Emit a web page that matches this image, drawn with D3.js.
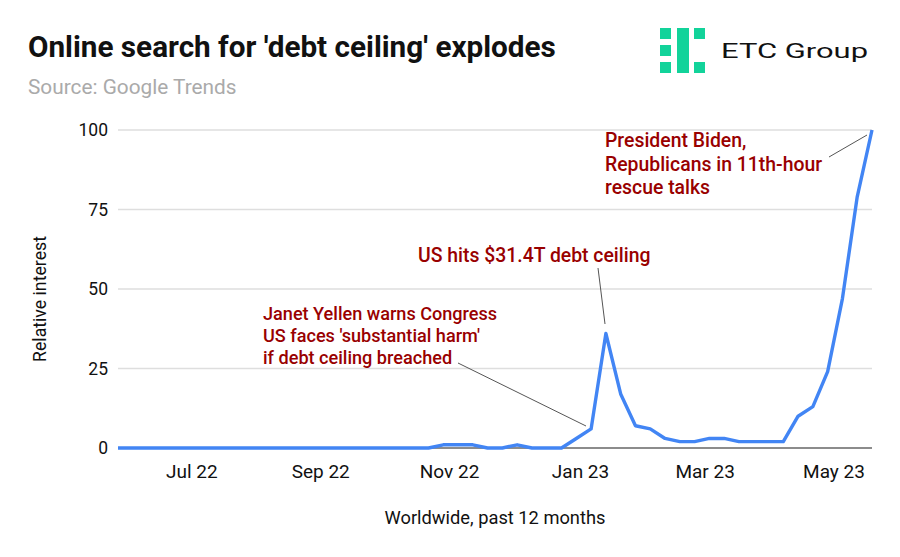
<!DOCTYPE html>
<html>
<head>
<meta charset="utf-8">
<script src="https://cdn.jsdelivr.net/npm/d3@7"></script>
<style>
  html, body { margin: 0; background: #fff; }
  text { font-family: Roboto, sans-serif; }
</style>
</head>
<body>
<svg id="chart" width="900" height="557"></svg>
<script>
  // Weekly Google Trends readings, first week to last
  const firstWeek = '2022-06-05';
  const interest = [
    0,0,0,0,0,0,0,0,0,0,0,0,0,0,0,0,0,0,0,0,0,
    0,1,1,1,0,0,1,0,0,0,3,6,36,17,7,6,3,2,2,3,3,
    2,2,2,2,10,13,24,47,79,100
  ];
  const yTicks = [0, 25, 50, 75, 100];
  const xTickDates = ['2022-07-10', '2022-09-09', '2022-11-09', '2023-01-10', '2023-03-10', '2023-05-10'];
  const xTickLabels = ['Jul 22', 'Sep 22', 'Nov 22', 'Jan 23', 'Mar 23', 'May 23'];

  const parse = d3.utcParse('%Y-%m-%d');
  const weeks = interest.map((_, i) => d3.utcDay.offset(parse(firstWeek), i * 7));

  const svg = d3.select('#chart');
  const x = d3.scaleUtc().domain(d3.extent(weeks)).range([118, 872]);
  const y = d3.scaleLinear().domain([0, 100]).range([448, 130]);

  // header
  svg.append('text').attr('x', 28).attr('y', 57)
    .attr('font-size', 29.7).attr('font-weight', 700).attr('fill', '#111')
    .text("Online search for 'debt ceiling' explodes");
  svg.append('text').attr('x', 28).attr('y', 94)
    .attr('font-size', 20.8).attr('fill', '#aaa')
    .text('Source: Google Trends');

  // logo
  const logo = svg.append('g').attr('fill', '#12d39a');
  [[660, 28, 11, 11], [660, 45, 11, 11], [660, 62, 11, 11], [677, 28, 12, 45],
   [694, 28, 11, 11], [694, 62, 11, 11]].forEach(([lx, ly, w, h]) => {
    logo.append('rect').attr('x', lx).attr('y', ly).attr('width', w).attr('height', h);
  });
  svg.append('text').attr('x', 721).attr('y', 58)
    .attr('font-family', 'Inter, sans-serif').attr('font-size', 21).attr('fill', '#111')
    .attr('textLength', 147).attr('lengthAdjust', 'spacingAndGlyphs')
    .text('ETC Group');

  // gridlines
  svg.append('g').selectAll('line').data(yTicks.filter(d => d > 0)).join('line')
    .attr('x1', 118).attr('x2', 872)
    .attr('y1', d => y(d)).attr('y2', d => y(d))
    .attr('stroke', '#dedede').attr('stroke-width', 1.5);

  // y axis
  svg.append('g').selectAll('text').data(yTicks).join('text')
    .attr('x', 108).attr('y', d => y(d) + 6)
    .attr('text-anchor', 'end').attr('font-size', 17.5).attr('fill', '#111')
    .text(d => d);
  svg.append('text')
    .attr('transform', 'translate(46,299) rotate(-90)')
    .attr('text-anchor', 'middle').attr('font-size', 17.7).attr('fill', '#111')
    .text('Relative interest');

  // x axis
  svg.append('g').selectAll('text').data(xTickDates).join('text')
    .attr('x', d => x(parse(d))).attr('y', 478)
    .attr('text-anchor', 'middle').attr('font-size', 19).attr('fill', '#111')
    .text((d, i) => xTickLabels[i]);
  svg.append('text').attr('x', 495).attr('y', 524)
    .attr('text-anchor', 'middle').attr('font-size', 18.3).attr('fill', '#111')
    .text('Worldwide, past 12 months');

  svg.append('line').attr('x1', 118).attr('x2', 872)
    .attr('y1', y(0)).attr('y2', y(0))
    .attr('stroke', '#666').attr('stroke-width', 1.5);

  // series
  const line = d3.line().x((d, i) => x(weeks[i])).y(d => y(d));
  svg.append('path').datum(interest)
    .attr('fill', 'none').attr('stroke', '#4285f4').attr('stroke-width', 3.4)
    .attr('stroke-linejoin', 'round')
    .attr('d', line);

  // annotations
  const notes = [
    { x: 263, y: 320, size: 18.1, gap: 22, lines: ['Janet Yellen warns Congress', "US faces 'substantial harm'", 'if debt ceiling breached'] },
    { x: 418, y: 262, size: 19.4, gap: 0, lines: ['US hits $31.4T debt ceiling'] },
    { x: 605, y: 147, size: 19.4, gap: 23.5, lines: ['President Biden,', 'Republicans in 11th-hour', 'rescue talks'] }
  ];
  notes.forEach(n => {
    svg.append('g').selectAll('text').data(n.lines).join('text')
      .attr('x', n.x).attr('y', (d, i) => n.y + i * n.gap)
      .attr('font-size', n.size).attr('font-weight', 500).attr('fill', '#990000')
      .text(d => d);
  });
  const leaders = [[458, 363, 586, 426], [598, 268, 605, 324], [829, 157, 867, 135]];
  svg.append('g').selectAll('line').data(leaders).join('line')
    .attr('x1', d => d[0]).attr('y1', d => d[1])
    .attr('x2', d => d[2]).attr('y2', d => d[3])
    .attr('stroke', '#555').attr('stroke-width', 1);
</script>
</body>
</html>
